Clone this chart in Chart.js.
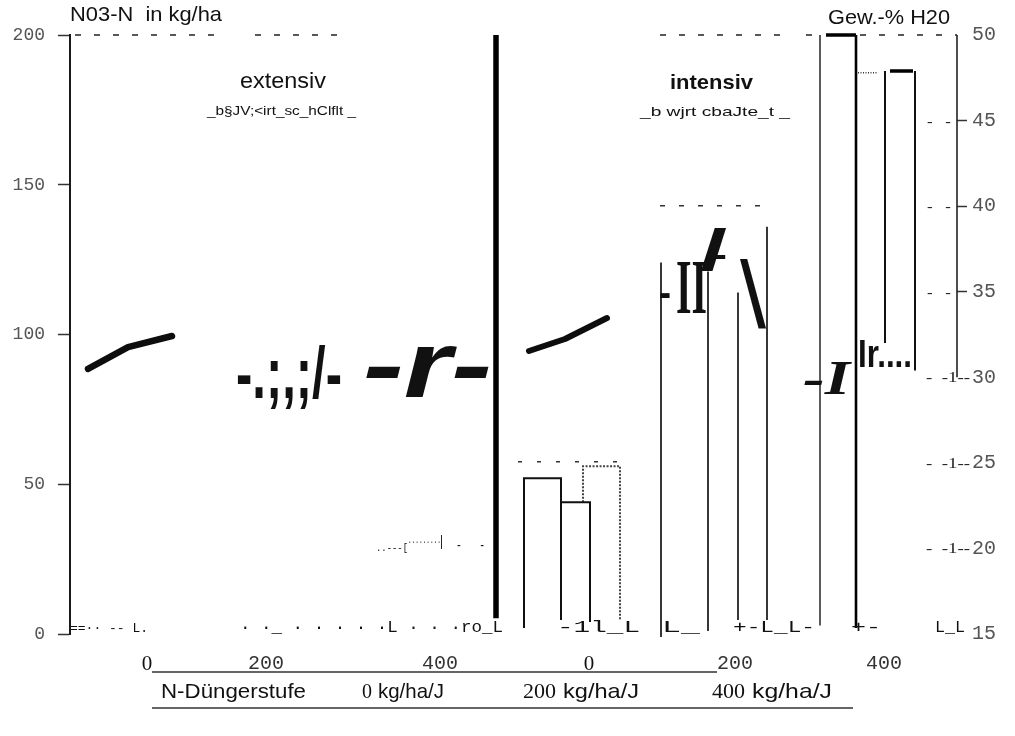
<!DOCTYPE html>
<html>
<head>
<meta charset="utf-8">
<script src="https://cdn.jsdelivr.net/npm/chart.js@4/dist/chart.umd.min.js"></script>
<style>
  html, body { margin: 0; padding: 0; background: #fff; }
  #wrap { width: 1015px; height: 736px; }
</style>
</head>
<body>
<div id="wrap"><canvas id="c" width="1015" height="736"></canvas></div>
<script>
// ---- axes ----
const leftTicks = [0, 50, 100, 150, 200];             // NO3-N in kg/ha
const rightTicks = [50, 45, 40, 35, 30, 25, 20, 15];  // Gew.-% H2O
const nLevelLabels = ['0', '200', '400', '0', '200', '400'];
const nLevelPos = [77, 196, 370, 519, 665, 814];      // position along the figure

// ---- extensiv: NO3-N course (kg/ha) ----
const extensivNO3 = [88.5, 95.8, 99.5];
const extensivNO3Pos = [18, 58, 102];

// ---- intensiv: NO3-N course (kg/ha) ----
const intensivNO3 = [94.5, 98.5, 105.5];
const intensivNO3Pos = [459, 495, 537];

// ---- intensiv, 0 kg/ha/J: bar tops and the feet of their side strokes (kg/ha) ----
const bars0Top = [52, 44, 56];
const bars0Feet = [[2, 4.7], [44, 4], [44, 4.7]];
const bars0Edges = [[454, 491], [491, 520], [513, 550]];
const bars0Level = 57.5;
const bars0LevelSpan = [448, 555];

// ---- intensiv, 200 kg/ha/J: strokes (kg/ha) ----
const strokes200Top = [124, 121, 114, 136];
const strokes200Foot = [-1, 1, 4.7, 4.7];
const strokes200Pos = [591, 638, 668, 697];
const strokes200Level = 143;
const strokes200LevelSpan = [590, 702];

// ---- intensiv, 400 kg/ha/J: strokes (Gew.-% H2O) ----
const strokes400Top = [50, 50, 47.9, 47.9];
const strokes400Foot = [15.5, 15.35, 32, 30.4];
const strokes400Pos = [750, 786, 815, 845];
const caps400 = [50, 47.9];
const caps400Span = [[756, 786], [820, 843]];
const cap400Dotted = 47.8;
const cap400DottedSpan = [788, 807];

// ---- frame ----
const topLevel = 200;
const topDashSpans = [[5, 155], [185, 270], [590, 712], [736, 744], [790, 887]];
const dividerPos = 426;
const dividerFoot = 5.3;
const rightAxisSpan = [30, 50];
const rightAxisPos = 887;

// helpers that turn the arrays into point lists
const pts = (xs, ys) => xs.map((x, i) => ({ x, y: ys[i] }));
const gap = x => ({ x, y: null });
function joinPaths(paths) {
  const out = [];
  paths.forEach((p, i) => { if (i) out.push(gap(p[0].x)); out.push(...p); });
  return out;
}
function barOutline(i) {
  const [l, r] = bars0Edges[i];
  const [fl, fr] = bars0Feet[i];
  return [{ x: l, y: fl }, { x: l, y: bars0Top[i] }, { x: r, y: bars0Top[i] }, { x: r, y: fr }];
}
const hline = (y, span) => [{ x: span[0], y }, { x: span[1], y }];
const vline = (x, a, b) => [{ x, y: a }, { x, y: b }];

function ds(data, o) {
  return Object.assign({
    data, yAxisID: 'y', borderColor: '#111', borderWidth: 1.8, pointRadius: 0,
    fill: false, tension: 0, clip: false, spanGaps: false,
    borderCapStyle: 'butt', borderJoinStyle: 'miter'
  }, o);
}

const datasets = [
  // NO3-N courses: heavy strokes with a grey grain
  ds(pts(extensivNO3Pos, extensivNO3), { borderWidth: 6.5, borderColor: '#0d0d0d', borderCapStyle: 'round', borderJoinStyle: 'round' }),
  ds(pts(extensivNO3Pos, extensivNO3), { borderWidth: 1.4, borderColor: 'rgba(160,160,160,0.8)', borderDash: [1, 2] }),
  ds(pts(intensivNO3Pos, intensivNO3), { borderWidth: 6, borderColor: '#0d0d0d', borderCapStyle: 'round', borderJoinStyle: 'round' }),
  ds(pts(intensivNO3Pos, intensivNO3), { borderWidth: 1.4, borderColor: 'rgba(160,160,160,0.8)', borderDash: [1, 2] }),

  // divider between extensiv and intensiv
  ds(vline(dividerPos, dividerFoot, topLevel), { borderWidth: 5.5, borderColor: '#000' }),

  // dashed level lines
  ds(joinPaths(topDashSpans.map(s => hline(topLevel, s))), { borderWidth: 1.4, borderColor: '#222', borderDash: [6, 13] }),
  ds(hline(bars0Level, bars0LevelSpan), { borderWidth: 1.4, borderColor: '#333', borderDash: [4, 15] }),
  ds(hline(strokes200Level, strokes200LevelSpan), { borderWidth: 1.4, borderColor: '#333', borderDash: [5, 14] }),

  // 0 kg/ha/J bars
  ds(joinPaths([barOutline(0), barOutline(1)]), { borderWidth: 2, borderColor: '#111' }),
  ds(barOutline(2), { borderWidth: 2, borderColor: '#444', borderDash: [2, 1.5] }),

  // 200 kg/ha/J strokes
  ds(joinPaths(strokes200Pos.map((x, i) => vline(x, strokes200Foot[i], strokes200Top[i]))), { borderWidth: 1.8, borderColor: '#222' }),

  // 400 kg/ha/J strokes (right axis)
  ds(vline(strokes400Pos[0], strokes400Foot[0], strokes400Top[0]), { yAxisID: 'yR', borderWidth: 1.6, borderColor: '#333' }),
  ds(vline(strokes400Pos[1], strokes400Foot[1], strokes400Top[1]), { yAxisID: 'yR', borderWidth: 2.6, borderColor: '#000' }),
  ds(joinPaths([2, 3].map(i => vline(strokes400Pos[i], strokes400Foot[i], strokes400Top[i]))), { yAxisID: 'yR', borderWidth: 2, borderColor: '#111' }),
  ds(joinPaths(caps400.map((v, i) => hline(v, caps400Span[i]))), { yAxisID: 'yR', borderWidth: 3.5, borderColor: '#000' }),
  ds(hline(cap400Dotted, cap400DottedSpan), { yAxisID: 'yR', borderWidth: 1.5, borderColor: '#333', borderDash: [1, 1.5] }),

  // right axis line
  ds(vline(rightAxisPos, rightAxisSpan[0], rightAxisSpan[1]), { yAxisID: 'yR', borderWidth: 1.6, borderColor: '#222' })
];

// ---- text that sits on the figure ----
const SANS = '"Liberation Sans", Arial, sans-serif';
const NARROW = '"Liberation Sans Narrow", "Liberation Sans", sans-serif';
const SERIF = '"Liberation Serif", "Times New Roman", serif';
const MONO = '"Liberation Mono", "DejaVu Sans Mono", monospace';

const figureTexts = [
  { t: 'N03-N  in kg/ha', f: '21px ' + SANS, x: 70, y: 21, w: 152 },
  { t: 'Gew.-% H20', f: '21px ' + SANS, x: 828, y: 24, w: 122 },
  { t: 'extensiv', f: '22px ' + SANS, x: 240, y: 88, w: 86 },
  { t: '_b§JV;<irt_sc_hClflt _', f: '13px ' + NARROW, x: 207, y: 115, w: 149 },
  { t: 'intensiv', f: 'bold 21px ' + SANS, x: 670, y: 89, w: 83 },
  { t: '_b wjrt cbaJte_t _', f: '13px ' + NARROW, x: 640, y: 116, w: 150 },

  { t: '-.;,;/-', f: 'bold 72px ' + NARROW, x: 236, y: 398, w: 106 },
  { t: '-r-', f: 'italic bold 95px ' + SANS, x: 363, y: 397, w: 129 },
  { t: '-', f: 'bold 40px ' + SANS, x: 659, y: 306, w: 12 },
  { t: 'II', f: 'bold 78px ' + SERIF, x: 676, y: 313, w: 31 },
  { t: '/', f: 'bold 58px ' + SANS, x: 700, y: 270, w: 27 },
  { t: '-', f: 'bold 34px ' + SANS, x: 712, y: 266, w: 15 },
  { t: '\\', f: '95px ' + SANS, x: 740, y: 328, w: 26 },
  { t: '-I', f: 'italic bold 48px ' + SERIF, x: 803, y: 394, w: 47 },
  { t: 'Ir....', f: 'bold 39px ' + SANS, x: 858, y: 367, w: 54 },

  { t: '..---[', f: '11px ' + MONO, x: 376, y: 551, w: 32 },
  { t: '.........', f: '10px ' + MONO, x: 408, y: 543, w: 33 },
  { t: '|', f: '15px ' + SANS, x: 440, y: 546, w: 3 },
  { t: '-   -', f: '14px ' + MONO, x: 456, y: 550, w: 29 },

  { t: '==\u00b7\u00b7 -- L.', f: '13px ' + MONO, x: 70, y: 632, w: 78 },
  { t: '\u00b7 \u00b7_ \u00b7 \u00b7 \u00b7 \u00b7 \u00b7L \u00b7 \u00b7 \u00b7ro_L', f: '17px ' + MONO, x: 240, y: 632, w: 263 },
  { t: '-1l_L', f: '17px ' + MONO, x: 557, y: 632, w: 83 },
  { t: 'L_', f: '17px ' + MONO, x: 662, y: 632, w: 38 },
  { t: '+-L_L-', f: '17px ' + MONO, x: 733, y: 632, w: 82 },
  { t: '+-', f: '17px ' + MONO, x: 851, y: 632, w: 30 },
  { t: 'L_L', f: '17px ' + MONO, x: 935, y: 632, w: 30 },

  { t: 'N-D\u00fcngerstufe', f: '21px ' + NARROW, x: 161, y: 698, w: 145 },
  { t: '0', f: '21px ' + SERIF, x: 362, y: 698, w: 10 },
  { t: 'kg/ha/J', f: '21px ' + NARROW, x: 378, y: 698, w: 66 },
  { t: '200', f: '21px ' + SERIF, x: 523, y: 698, w: 33 },
  { t: 'kg/ha/J', f: '21px ' + NARROW, x: 563, y: 698, w: 76 },
  { t: '400', f: '21px ' + SERIF, x: 712, y: 698, w: 33 },
  { t: 'kg/ha/J', f: '21px ' + NARROW, x: 752, y: 698, w: 80 }
];

// marks beside the right-hand tick labels
const rightTickMarks = { 45: '-   -', 40: '-   -', 35: '-   -', 30: '-  -1--', 25: '-  -1--', 20: '-  -1--' };

function putText(ctx, it) {
  ctx.save();
  ctx.font = it.f;
  ctx.fillStyle = it.c || '#111';
  ctx.textBaseline = 'alphabetic';
  ctx.textAlign = 'left';
  const m = ctx.measureText(it.t).width;
  const sx = it.w ? it.w / m : 1;
  ctx.translate(it.x, it.y);
  ctx.scale(sx, 1);
  ctx.fillText(it.t, 0, 0);
  ctx.restore();
}

const figureInk = {
  id: 'figureInk',
  afterDraw(chart) {
    const ctx = chart.ctx;
    figureTexts.forEach(it => putText(ctx, it));
    const yR = chart.scales.yR;
    Object.keys(rightTickMarks).forEach(v => {
      const s = rightTickMarks[v];
      const y = yR.getPixelForValue(+v) + 5;
      if (s.indexOf('1') >= 0) putText(ctx, { t: s, f: '14px ' + SERIF, x: 926, y, w: 44, c: '#222' });
      else putText(ctx, { t: s, f: '14px ' + SERIF, x: 927, y, w: 24, c: '#222' });
    });
    // table rules below the axis
    ctx.save();
    ctx.strokeStyle = '#333';
    ctx.lineWidth = 1.5;
    ctx.beginPath();
    ctx.moveTo(152, 672); ctx.lineTo(717, 672);
    ctx.moveTo(152, 708); ctx.lineTo(853, 708);
    ctx.stroke();
    ctx.restore();
  }
};

new Chart(document.getElementById('c'), {
  type: 'line',
  data: { datasets },
  options: {
    responsive: false,
    animation: false,
    events: [],
    layout: { padding: { top: 35, left: 0, right: 0, bottom: 0 } },
    plugins: { legend: { display: false }, tooltip: { enabled: false }, title: { display: false } },
    scales: {
      x: {
        type: 'linear', min: 0, max: 887,
        border: { display: false },
        grid: { display: false, drawTicks: false },
        afterBuildTicks: s => { s.ticks = nLevelPos.map(v => ({ value: v })); },
        afterFit: s => { s.height = 102; },
        ticks: {
          autoSkip: false, maxRotation: 0, padding: 18,
          callback: (v, i) => nLevelLabels[i],
          font: c => (c.index === 0 || c.index === 3) ? { family: SERIF, size: 21 } : { family: MONO, size: 20 },
          color: c => (c.index === 0 || c.index === 3) ? '#111' : '#333'
        }
      },
      y: {
        position: 'left', min: 0, max: 200,
        border: { display: true, color: '#1a1a1a', width: 2 },
        grid: { drawOnChartArea: false, drawTicks: true, tickLength: 12, tickColor: '#333', tickWidth: 1.5 },
        afterBuildTicks: s => { s.ticks = leftTicks.map(v => ({ value: v })); },
        afterFit: s => { s.width = 70; },
        ticks: { padding: 13, font: { family: MONO, size: 18 }, color: '#555' }
      },
      yR: {
        position: 'right', min: 15, max: 50,
        border: { display: false },
        grid: {
          drawOnChartArea: false, drawTicks: true, tickLength: 10, tickWidth: 1.5,
          tickColor: c => [45, 40, 35].includes(c.tick && c.tick.value) ? '#333' : 'rgba(0,0,0,0)'
        },
        afterBuildTicks: s => { s.ticks = rightTicks.map(v => ({ value: v })); },
        afterFit: s => { s.width = 58; },
        ticks: { padding: 5, font: { family: MONO, size: 20 }, color: '#555' }
      }
    }
  },
  plugins: [figureInk]
});
</script>
</body>
</html>
